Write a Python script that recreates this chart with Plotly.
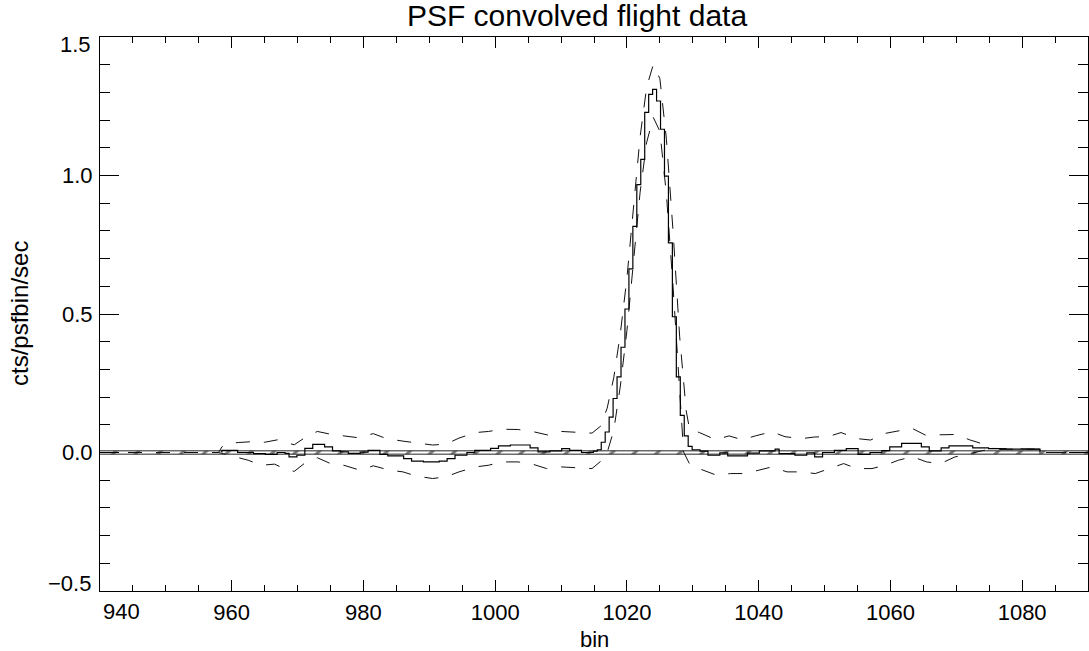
import numpy as np
import plotly.graph_objects as go

# ---------------- data ----------------
title_text = "PSF convolved flight data"
x_title = "bin"
y_title = "cts/psfbin/sec"

# histogram (step) of PSF-convolved counts
step_start = 958.5
step_width = 0.6
step_values = [
    0.008, 0.008, 0.008, 0.008, 0.0, 0.0, 0.0, 0.0, -0.004, -0.004,
    -0.004, -0.007, -0.007, -0.007, 0.0, 0.0, -0.003, -0.016, -0.016, -0.010,
    -0.010, 0.015, 0.015, 0.029, 0.029, 0.029, 0.020, 0.020, 0.006, 0.006,
    0.002, 0.002, -0.003, -0.003, -0.003, 0.001, 0.001, 0.008, 0.008, 0.008,
    -0.007, -0.007, -0.012, -0.012, -0.012, -0.012, -0.022, -0.022, -0.031, -0.031,
    -0.031, -0.034, -0.034, -0.034, -0.034, -0.031, -0.031, -0.022, -0.022, -0.010,
    -0.010, -0.010, 0.0, 0.0, 0.008, 0.008, 0.008, 0.008, 0.015, 0.015,
    0.024, 0.024, 0.024, 0.027, 0.027, 0.027, 0.027, 0.027, 0.017, 0.017,
    0.002, 0.002, 0.002, 0.006, 0.006, 0.006, 0.014, 0.014, 0.008, 0.008,
    0.008, 0.0, 0.0, 0.0, 0.005, 0.010, 0.037, 0.074, 0.128, 0.195,
    0.273, 0.380, 0.518, 0.663, 0.816, 0.967, 1.058, 1.228, 1.293, 1.311,
    1.269, 1.167, 0.998, 0.757, 0.490, 0.273, 0.134, 0.060, 0.022, 0.010,
    0.010, 0.005, 0.005, -0.010, -0.010, -0.010, -0.001, -0.001, -0.012, -0.012,
    -0.012, -0.012, -0.012, -0.002, -0.002, -0.002, 0.006, 0.006, 0.006, 0.006,
    0.012, -0.004, -0.004, -0.004, -0.004, -0.010, -0.010, -0.010, -0.001, -0.001,
    -0.016, -0.016, 0.0, 0.0, 0.0, 0.008, 0.008, 0.008, 0.014, 0.014,
    0.014, -0.007, -0.007, -0.007, 0.0, 0.0, 0.0, 0.007, 0.007, 0.020,
    0.020, 0.020, 0.033, 0.033, 0.033, 0.033, 0.033, 0.020, 0.020, 0.006,
    0.006, 0.006, 0.017, 0.017, 0.024, 0.024, 0.024, 0.024, 0.024, 0.024,
    0.017, 0.017, 0.017, 0.017, 0.014, 0.014, 0.014, 0.012, 0.012, 0.012,
    0.012, 0.012, 0.012, 0.012, 0.012, 0.012, 0.012,
]

# upper error envelope (dashed)
upper_bins = [940, 958.0, 958.5, 959.5, 961, 963, 965, 967, 968.5, 969.5,
              971.5, 973, 975, 977, 979, 981.5, 983.5, 986, 988, 990.5,
              992.5, 994.5, 997, 999, 1001, 1003.5, 1006, 1008, 1010, 1012.5,
              1014.7, 1016, 1017, 1018, 1019, 1020, 1021, 1022, 1023, 1024,
              1025, 1026, 1027, 1028, 1029, 1029.5, 1031, 1033.5, 1035.5, 1037.5,
              1039.5, 1042, 1044, 1046.5, 1048.5, 1050.5, 1052.5, 1055, 1057, 1059,
              1061, 1063.3, 1065.3, 1067.6, 1070, 1072, 1074, 1075, 1082.7, 1082.8,
              1090]
upper_vals = [0.0, 0.0, 0.020, 0.033, 0.036, 0.039, 0.037, 0.046, 0.034, 0.028,
              0.060, 0.076, 0.066, 0.060, 0.054, 0.068, 0.050, 0.041, 0.036, 0.027,
              0.030, 0.052, 0.072, 0.076, 0.084, 0.083, 0.074, 0.063, 0.076, 0.072,
              0.070, 0.095, 0.16, 0.27, 0.43, 0.63, 0.89, 1.14, 1.32, 1.40,
              1.35, 1.13, 0.80, 0.42, 0.15, 0.085, 0.072, 0.046, 0.060, 0.046,
              0.060, 0.075, 0.057, 0.050, 0.056, 0.057, 0.072, 0.050, 0.045, 0.068,
              0.077, 0.087, 0.063, 0.063, 0.065, 0.046, 0.031, 0.015, 0.012, 0.0,
              0.0]

# lower error envelope (dashed)
lower_bins = [940, 958.0, 958.5, 960, 962.5, 964.5, 966.5, 968.5, 969.5, 971,
              973, 975, 977, 979.5, 981.5, 984, 986, 988, 990.5, 992.5,
              994.5, 997, 999, 1001, 1003.5, 1005.8, 1007.8, 1010, 1012.4, 1014.7,
              1016.2, 1017, 1018, 1019, 1020, 1021, 1022, 1023, 1024, 1025,
              1026, 1027, 1028, 1028.6, 1029.6, 1031.6, 1033.6, 1035.7, 1037.7, 1040,
              1042, 1044.3, 1046.3, 1048.6, 1050.6, 1052.9, 1054.9, 1057.2, 1059.2, 1061.2,
              1063.3, 1065.5, 1067.6, 1069.8, 1071.9, 1074, 1075, 1082.7, 1082.8, 1090]
lower_vals = [0.0, 0.0, -0.003, -0.012, -0.028, -0.046, -0.042, -0.064, -0.068, -0.040,
              -0.019, -0.040, -0.046, -0.064, -0.048, -0.064, -0.070, -0.085, -0.094, -0.088,
              -0.070, -0.052, -0.046, -0.034, -0.034, -0.043, -0.058, -0.052, -0.056, -0.058,
              -0.028, 0.00, 0.08, 0.24, 0.44, 0.69, 0.94, 1.12, 1.21, 1.16,
              0.93, 0.60, 0.22, 0.002, -0.046, -0.064, -0.082, -0.076, -0.076, -0.064,
              -0.052, -0.070, -0.070, -0.076, -0.060, -0.040, -0.058, -0.058, -0.046, -0.028,
              -0.015, -0.034, -0.040, -0.016, -0.005, 0.008, 0.012, 0.012, 0.0, 0.0]

# thin hatched zero band
band_x = [940, 1090]
band_lo = [-0.006, -0.006]
band_hi = [0.006, 0.006]

x_ticks = [940, 960, 980, 1000, 1020, 1040, 1060, 1080]
x_ticklabels = ["940", "960", "980", "1000", "1020", "1040", "1060", "1080"]
y_ticks = [-0.5, 0.0, 0.5, 1.0, 1.5]
y_ticklabels = ["\u22120.5", "0.0", "0.5", "1.0", "1.5"]
x_range = [940, 1090]
y_range = [-0.5, 1.5]

# ---------------- figure ----------------
edges = step_start + step_width * np.arange(len(step_values) + 1)
step_x = [step_start] + list(edges)
step_y = [0.0] + list(step_values) + [0.0]

fig = go.Figure()

fig.add_trace(go.Scatter(x=band_x, y=band_lo, mode="lines",
                         line=dict(color="#222222", width=1), showlegend=False,
                         hoverinfo="skip"))
fig.add_trace(go.Scatter(x=band_x, y=band_hi, mode="lines",
                         line=dict(color="#222222", width=1), fill="tonexty",
                         fillcolor="rgba(0,0,0,0)",
                         fillpattern=dict(shape="/", fgcolor="#000000", bgcolor="white",
                                          size=16, solidity=0.2),
                         showlegend=False, hoverinfo="skip"))

dash_style = "14px,14px"
fig.add_trace(go.Scatter(x=upper_bins, y=upper_vals, mode="lines",
                         line=dict(color="#111111", width=1, dash=dash_style),
                         showlegend=False))
fig.add_trace(go.Scatter(x=lower_bins, y=lower_vals, mode="lines",
                         line=dict(color="#111111", width=1, dash=dash_style),
                         showlegend=False))
fig.add_trace(go.Scatter(x=step_x, y=step_y, mode="lines", line_shape="hv",
                         line=dict(color="black", width=1.2), showlegend=False))

font_family = "Liberation Sans, Arial, Helvetica, sans-serif"
tick_font = dict(size=22, family=font_family, color="black")

# tick labels: end labels nudged inward like the original plot
plot_h = 651 - 37 - 60
annotations = [
    dict(text=x_title, xref="paper", x=0.5, yref="paper", y=-(639 - 591) / plot_h,
         xanchor="center", yanchor="middle", showarrow=False, font=tick_font),
    dict(text=y_title, xref="paper", x=-(100 - 19) / 988, yref="paper", y=0.5,
         xanchor="center", yanchor="middle", showarrow=False, textangle=-90,
         font=dict(size=24, family=font_family, color="black")),
    dict(text=x_ticklabels[0], xref="x", x=x_ticks[0], xshift=21,
         yref="paper", y=-(611 - 591) / plot_h, xanchor="center", yanchor="middle",
         showarrow=False, font=tick_font),
    dict(text=y_ticklabels[-1], xref="paper", x=0, xshift=-7, xanchor="right",
         yref="y", y=y_ticks[-1], yshift=-7, yanchor="middle",
         showarrow=False, font=tick_font),
    dict(text=y_ticklabels[0], xref="paper", x=0, xshift=-7, xanchor="right",
         yref="y", y=y_ticks[0], yshift=8, yanchor="middle",
         showarrow=False, font=tick_font),
]

fig.update_layout(
    width=1089, height=651,
    margin=dict(l=100, r=1, t=37, b=60, autoexpand=False),
    paper_bgcolor="white", plot_bgcolor="white",
    font=dict(family=font_family, size=22, color="black"),
    title=dict(text=title_text, x=577 / 1089, xref="container", xanchor="center",
               y=1 - 15 / 651, yref="container", yanchor="middle",
               automargin=False,
               font=dict(size=30, family=font_family, color="black")),
    showlegend=False,
    annotations=annotations,
)

fig.update_xaxes(
    range=x_range, tickvals=x_ticks, ticktext=[""] + x_ticklabels[1:],
    ticks="inside", ticklen=11, tickwidth=1,
    tickcolor="black", showline=True, linecolor="black", linewidth=1,
    mirror="ticks", showgrid=False, zeroline=False, automargin=False,
    minor=dict(dtick=5, ticks="inside", ticklen=6, tickcolor="black", tickwidth=1,
               showgrid=False),
    tickfont=tick_font, ticklabelstandoff=2,
)
fig.update_yaxes(
    range=y_range, tickvals=y_ticks, ticktext=[""] + y_ticklabels[1:-1] + [""],
    ticks="inside", ticklen=19,
    tickwidth=1, tickcolor="black", showline=True, linecolor="black", linewidth=1,
    mirror="ticks", showgrid=False, zeroline=False, automargin=False,
    minor=dict(dtick=0.1, ticks="inside", ticklen=10, tickcolor="black", tickwidth=1,
               showgrid=False),
    tickfont=tick_font, ticklabelstandoff=2,
)

fig.write_html("out.html",
               config={"displayModeBar": False},
               post_script="document.body.style.margin='0px';"
                           "document.documentElement.style.overflow='hidden';")
